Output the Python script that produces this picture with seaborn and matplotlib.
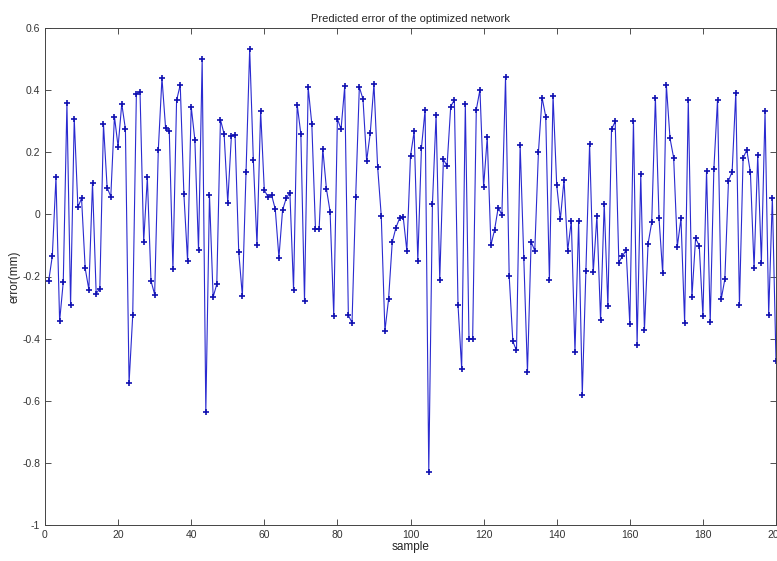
import numpy as np
import pandas as pd
import seaborn as sns
import matplotlib
matplotlib.use("Agg")
import matplotlib.pyplot as plt

# predicted error per sample (samples 1..200)
errors = [
    -0.215, -0.134, 0.119, -0.344, -0.217, 0.358, -0.292, 0.308, 0.023, 0.052,
    -0.174, -0.242, 0.102, -0.255, -0.239, 0.290, 0.086, 0.057, 0.315, 0.218,
    0.356, 0.275, -0.543, -0.325, 0.388, 0.393, -0.088, 0.119, -0.214, -0.258,
    0.208, 0.439, 0.277, 0.269, -0.177, 0.367, 0.417, 0.065, -0.149, 0.347,
    0.240, -0.115, 0.500, -0.637, 0.062, -0.266, -0.225, 0.305, 0.259, 0.038,
    0.253, 0.256, -0.120, -0.263, 0.138, 0.533, 0.175, -0.099, 0.333, 0.078,
    0.057, 0.062, 0.017, -0.139, 0.014, 0.052, 0.070, -0.242, 0.353, 0.259,
    -0.280, 0.409, 0.291, -0.047, -0.047, 0.211, 0.082, 0.009, -0.327, 0.308,
    0.274, 0.412, -0.325, -0.349, 0.055, 0.410, 0.371, 0.172, 0.263, 0.420,
    0.154, -0.005, -0.375, -0.273, -0.090, -0.043, -0.013, -0.008, -0.117, 0.188,
    0.267, -0.149, 0.215, 0.337, -0.828, 0.033, 0.320, -0.212, 0.177, 0.156,
    0.347, 0.369, -0.292, -0.497, 0.356, -0.400, -0.402, 0.337, 0.401, 0.089,
    0.248, -0.099, -0.050, 0.022, -0.002, 0.442, -0.198, -0.409, -0.438, 0.224,
    -0.142, -0.508, -0.088, -0.117, 0.200, 0.376, 0.315, -0.212, 0.382, 0.095,
    -0.016, 0.111, -0.117, -0.022, -0.443, -0.022, -0.580, -0.182, 0.227, -0.187,
    -0.005, -0.341, 0.035, -0.296, 0.274, 0.299, -0.155, -0.134, -0.115, -0.354,
    0.302, -0.419, 0.130, -0.373, -0.094, -0.026, 0.376, -0.013, -0.190, 0.417,
    0.245, 0.182, -0.104, -0.013, -0.349, 0.369, -0.266, -0.077, -0.101, -0.327,
    0.141, -0.348, 0.146, 0.369, -0.274, -0.209, 0.108, 0.138, 0.392, -0.292,
    0.181, 0.208, 0.135, -0.174, 0.191, -0.155, 0.333, -0.323, 0.054, -0.473,
]
samples = np.arange(1, len(errors) + 1)

x_ticks = [0, 20, 40, 60, 80, 100, 120, 140, 160, 180, 200]
y_ticks = [-1, -0.8, -0.6, -0.4, -0.2, 0, 0.2, 0.4, 0.6]
y_tick_labels = ["-1", "-0.8", "-0.6", "-0.4", "-0.2", "0", "0.2", "0.4", "0.6"]

df = pd.DataFrame({"sample": samples, "error": errors})

sns.set_style("ticks")
plt.rcParams["font.family"] = ["Liberation Sans", "DejaVu Sans"]

fig = plt.figure(figsize=(7.77, 5.61), dpi=100)
ax = fig.add_axes([45 / 777, 36 / 561, 731 / 777, 497 / 561])

sns.lineplot(data=df, x="sample", y="error", ax=ax, color="#2a2ad0",
             linewidth=0.8, marker="+", markersize=5, markeredgewidth=1.2,
             markeredgecolor="#1010b0")

ax.set_xlim(0, 200)
ax.set_ylim(-1, 0.6)
ax.set_xticks(x_ticks)
ax.set_yticks(y_ticks)
ax.set_yticklabels(y_tick_labels)
ax.tick_params(direction="in", top=True, right=True, labelsize=7.5,
               length=4, width=0.6, colors="#333333")
for s in ax.spines.values():
    s.set_visible(True)
    s.set_linewidth(0.7)
    s.set_color("#444444")

ax.set_title("Predicted error of the optimized network", fontsize=8, pad=4)
ax.set_xlabel("sample", fontsize=8.5, labelpad=1)
ax.set_ylabel("error(mm)", fontsize=8.5, labelpad=1)

fig.savefig("out.png", dpi=100)
